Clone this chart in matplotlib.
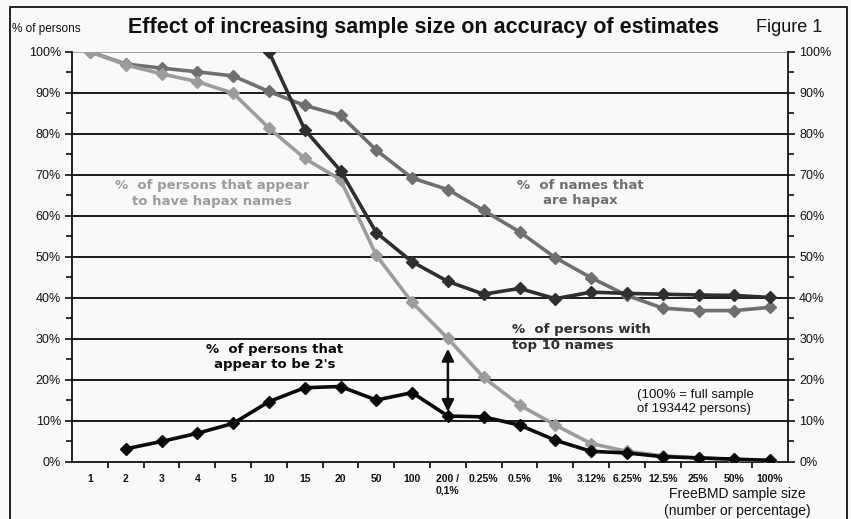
import matplotlib
matplotlib.use('Agg')
import matplotlib.pyplot as plt
from matplotlib.lines import Line2D
from matplotlib.ticker import MultipleLocator, FuncFormatter

plt.rcParams['font.family'] = ['Liberation Sans Narrow', 'Liberation Sans', 'DejaVu Sans']

# 样本大小（类别轴）
sizes = ['1', '2', '3', '4', '5', '10', '15', '20', '50', '100', '200 /\n0,1%',
         '0.25%', '0.5%', '1%', '3.12%', '6.25%', '12.5%', '25%', '50%', '100%']

# 各条曲线的数值（%），None 表示没有数据
names_hapax = [100, 97.0, 96.0, 95.1, 94.1, 90.3, 86.9, 84.5, 76.0, 69.2,
               66.4, 61.3, 56.1, 49.8, 44.9, 40.6, 37.5, 36.9, 36.9, 37.7]
persons_hapax = [100, 96.8, 94.6, 92.7, 89.9, 81.4, 74.0, 68.8, 50.4, 38.9,
                 30.1, 20.6, 13.9, 9.0, 4.5, 2.6, 1.5, 1.0, 0.6, 0.3]
top10 = [None, None, None, None, None, 100, 81.0, 71.0, 55.9, 48.8,
         44.0, 40.9, 42.3, 39.8, 41.4, 41.1, 40.9, 40.7, 40.6, 40.1]
twos = [None, 3.2, 5.0, 7.0, 9.4, 14.7, 18.1, 18.4, 15.1, 16.9,
        11.2, 11.0, 9.0, 5.3, 2.6, 2.2, 1.3, 1.0, 0.7, 0.4]

fig = plt.figure(figsize=(8.51, 5.19), dpi=100, facecolor='#f9f9f9')
ax = fig.add_axes([72 / 851, 1 - 462 / 519, 716 / 851, 410.3 / 519])
ax.set_facecolor('#f9f9f9')

x = list(range(len(sizes)))


def plot_series(vals, color, lw, ms):
    xs = [i for i, v in zip(x, vals) if v is not None]
    ys = [v for v in vals if v is not None]
    ax.plot(xs, ys, color=color, lw=lw, marker='D', ms=ms, zorder=3)


# 网格线
for g in range(10, 100, 10):
    ax.axhline(g, color='#1a1a1a', lw=1.4, zorder=1)
ax.axhline(100, color='#999999', lw=1.3, zorder=1)

plot_series(names_hapax, '#6f6f6f', 2.6, 6.5)
plot_series(persons_hapax, '#9c9c9c', 2.6, 6.5)
plot_series(top10, '#2f2f2f', 2.6, 6.5)
plot_series(twos, '#0a0a0a', 2.6, 6.5)

ax.set_xlim(-0.5, 19.5)
ax.set_ylim(0, 100)

ax.spines['top'].set_visible(False)
for s in ['left', 'right', 'bottom']:
    ax.spines[s].set_color('#111111')
    ax.spines[s].set_linewidth(1.3)

# y 轴（左右两边都有刻度）
ax.yaxis.set_major_locator(MultipleLocator(10))
ax.yaxis.set_minor_locator(MultipleLocator(5))
ax.yaxis.set_major_formatter(FuncFormatter(lambda v, p: f'{int(v)}%'))
ax.tick_params(axis='y', which='both', left=True, right=True, labelleft=True,
               labelright=True, direction='out', labelsize=9, width=1.2,
               pad=3, colors='#111111')
ax.tick_params(axis='y', which='major', length=5)
ax.tick_params(axis='y', which='minor', length=4)

# x 轴：刻度在类别之间
ax.set_xticks([i + 0.5 for i in range(19)], minor=False)
ax.set_xticklabels([])
ax.tick_params(axis='x', which='major', direction='out', length=4, width=1.2)
for i, lab in enumerate(sizes):
    ax.text(i, -2.9, lab, ha='center', va='top', fontsize=7.5, fontweight='bold',
            color='#111111', linespacing=1.2)

# 文字说明
ax.text(3.41, 65.5, '%  of persons that appear\nto have hapax names', ha='center', va='center',
        fontsize=9.5, fontweight='bold', color='#9c9c9c', family='DejaVu Sans', linespacing=1.25)
ax.text(13.69, 65.6, '%  of names that\nare hapax', ha='center', va='center',
        fontsize=9.5, fontweight='bold', color='#6f6f6f', family='DejaVu Sans', linespacing=1.25)
ax.text(11.79, 30.3, '%  of persons with\ntop 10 names', ha='left', va='center',
        fontsize=9.5, fontweight='bold', color='#2f2f2f', family='DejaVu Sans', linespacing=1.25)
ax.text(5.17, 25.6, '%  of persons that\nappear to be 2\'s', ha='center', va='center',
        fontsize=9.5, fontweight='bold', color='#0a0a0a', family='DejaVu Sans', linespacing=1.25)
ax.text(15.28, 14.6, '(100% = full sample\nof 193442 persons)', ha='left', va='center',
        fontsize=9.5, color='#111111', family='Liberation Sans', linespacing=1.15)

ax.annotate('', xy=(10, 27.6), xytext=(10, 12.2),
            arrowprops=dict(arrowstyle='<|-|>', color='#111111', lw=1.8,
                            mutation_scale=18, shrinkA=0, shrinkB=0))

# 标题和其他图外文字
fig.text(424 / 851, 1 - 27 / 519, 'Effect of increasing sample size on accuracy of estimates',
         ha='center', va='center', fontsize=15.5, fontweight='bold', color='#111111')
fig.text(12 / 851, 1 - 29 / 519, '% of persons', ha='left', va='center', fontsize=8.5,
         color='#111111')
fig.text(822 / 851, 1 - 27 / 519, 'Figure 1', ha='right', va='center', fontsize=13,
         color='#111111')
fig.text(737 / 851, 1 - 494 / 519, 'FreeBMD sample size', ha='center', va='center',
         fontsize=10, color='#111111')
fig.text(737 / 851, 1 - 511 / 519, '(number or percentage)', ha='center', va='center',
         fontsize=10, color='#111111')

# 外框
bx0, bx1, by1 = 10 / 851, 847 / 851, 1 - 7 / 519
fig.add_artist(Line2D([bx0, bx0, bx1, bx1], [0, by1, by1, 0], transform=fig.transFigure,
                      color='#222222', lw=1.4))

fig.savefig('out.png', dpi=100, facecolor=fig.get_facecolor())
